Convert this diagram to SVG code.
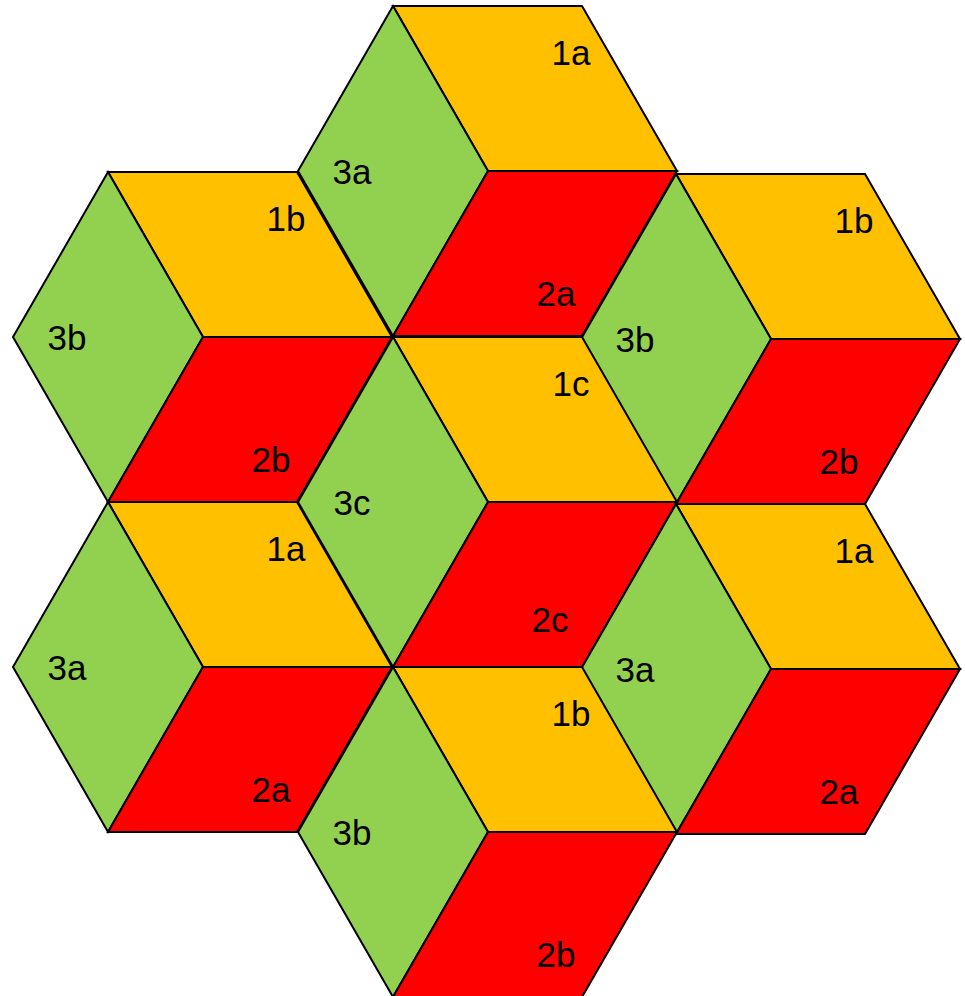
<svg xmlns="http://www.w3.org/2000/svg" xmlns:xlink="http://www.w3.org/1999/xlink" width="965" height="996" viewBox="0 0 965 996">
<style>
.y{fill:#FFC000;stroke:#000;stroke-width:2;stroke-linejoin:miter}
.g{fill:#92D050;stroke:#000;stroke-width:2;stroke-linejoin:miter}
.r{fill:#FF0000;stroke:#000;stroke-width:2;stroke-linejoin:miter}
text{font-family:"Liberation Sans",Arial,sans-serif;font-size:35px;fill:#000;text-anchor:middle}
</style>
<defs>
<polygon id="top" class="y" points="0,0 189,0 284,165 95,165"/>
<polygon id="left" class="g" points="0,0 95,165 0,330 -95,165"/>
<polygon id="right" class="r" points="95,165 284,165 189,330 0,330"/>
</defs>
<rect width="965" height="996" fill="#fff"/>
<g id="cube-top" transform="translate(393,6)">
<use xlink:href="#top"/><use xlink:href="#left"/><use xlink:href="#right"/>
<text x="178" y="59">1a</text><text x="-41" y="178">3a</text><text x="163" y="300">2a</text>
</g>
<g id="cube-upper-left" transform="translate(108,172)">
<use xlink:href="#top"/><use xlink:href="#left"/><use xlink:href="#right"/>
<text x="178" y="59">1b</text><text x="-41" y="178">3b</text><text x="163" y="300">2b</text>
</g>
<g id="cube-upper-right" transform="translate(676,174)">
<use xlink:href="#top"/><use xlink:href="#left"/><use xlink:href="#right"/>
<text x="178" y="59">1b</text><text x="-41" y="178">3b</text><text x="163" y="300">2b</text>
</g>
<g id="cube-center" transform="translate(393,337)">
<use xlink:href="#top"/><use xlink:href="#left"/><use xlink:href="#right"/>
<text x="178" y="59">1c</text><text x="-41" y="178">3c</text><text x="157" y="295">2c</text>
</g>
<g id="cube-lower-left" transform="translate(108,502)">
<use xlink:href="#top"/><use xlink:href="#left"/><use xlink:href="#right"/>
<text x="178" y="59">1a</text><text x="-41" y="178">3a</text><text x="163" y="300">2a</text>
</g>
<g id="cube-lower-right" transform="translate(676,504)">
<use xlink:href="#top"/><use xlink:href="#left"/><use xlink:href="#right"/>
<text x="178" y="59">1a</text><text x="-41" y="178">3a</text><text x="163" y="300">2a</text>
</g>
<g id="cube-bottom" transform="translate(393,667)">
<use xlink:href="#top"/><use xlink:href="#left"/><use xlink:href="#right"/>
<text x="178" y="59">1b</text><text x="-41" y="178">3b</text><text x="163" y="300">2b</text>
</g>
<g id="connectors"/>
</svg>
